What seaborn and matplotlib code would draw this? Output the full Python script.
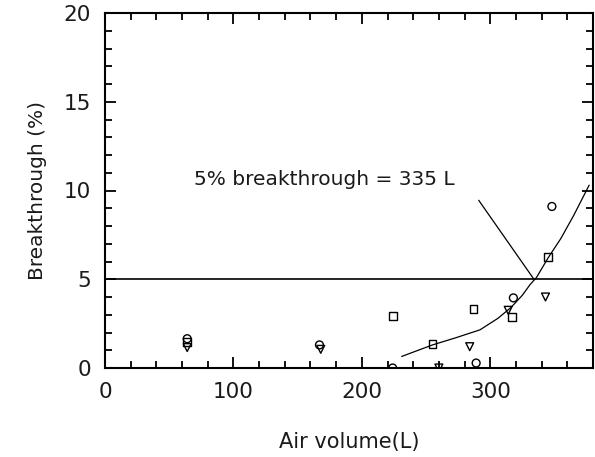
import matplotlib
matplotlib.use("Agg")
import matplotlib.pyplot as plt
import seaborn as sns
import pandas as pd
from matplotlib.ticker import MultipleLocator

# ---- data ----
circle_x = [64, 167, 224, 289, 318, 348]
circle_y = [1.65, 1.3, 0.0, 0.28, 3.95, 9.1]
square_x = [64, 224, 255, 287, 317, 345]
square_y = [1.45, 2.95, 1.35, 3.3, 2.85, 6.25]
tri_x = [64, 168, 260, 284, 314, 343]
tri_y = [1.15, 1.05, 0.0, 1.2, 3.25, 4.0]

curve_x = [231, 255, 273, 292, 306, 316, 325, 331, 336, 345, 355, 365, 377]
curve_y = [0.65, 1.3, 1.7, 2.15, 2.8, 3.4, 4.1, 4.7, 5.1, 6.2, 7.3, 8.6, 10.3]

threshold = 5
pointer_x = [291, 334]
pointer_y = [9.45, 5.0]
annot_text = "5% breakthrough = 335 L"
annot_xy = (69, 10.6)

x_label = "Air volume(L)"
y_label = "Breakthrough (%)"

pts = pd.DataFrame({
    "x": circle_x + square_x + tri_x,
    "y": circle_y + square_y + tri_y,
    "s": ["c"] * len(circle_x) + ["s"] * len(square_x) + ["t"] * len(tri_x),
})
curve = pd.DataFrame({"x": curve_x, "y": curve_y})

sns.set_style("white")
plt.rcParams["font.family"] = ["DejaVu Sans"]
txt = "#1a1a1a"
plt.rcParams["text.color"] = txt
plt.rcParams["axes.labelcolor"] = txt

fig = plt.figure(figsize=(5.95, 4.57), dpi=100)
ax = fig.add_axes([105 / 595, 1 - 368 / 457, (593 - 105) / 595, (368 - 13) / 457])

sns.scatterplot(data=pts, x="x", y="y", style="s",
                markers={"c": "o", "s": "s", "t": "v"},
                facecolor="none", edgecolor="black", linewidth=1.0,
                s=32, legend=False, ax=ax)
for coll in ax.collections:
    coll.set_facecolor("none")
    coll.set_edgecolor("black")

sns.lineplot(data=curve, x="x", y="y", color="black", linewidth=0.9, ax=ax)
ax.axhline(threshold, color="black", linewidth=1.2)
ax.plot(pointer_x, pointer_y, color="black", linewidth=0.9)
ax.text(annot_xy[0], annot_xy[1], annot_text, fontsize=14.5, va="center", ha="left",
        color=txt)

ax.set_xlim(0, 380)
ax.set_ylim(0, 20)
ax.xaxis.set_major_locator(MultipleLocator(100))
ax.xaxis.set_minor_locator(MultipleLocator(20))
ax.yaxis.set_major_locator(MultipleLocator(5))
ax.yaxis.set_minor_locator(MultipleLocator(1))
ax.tick_params(which="both", direction="in", top=True, right=True, bottom=True,
               left=True, width=1.3, color="black", labelcolor=txt)
ax.tick_params(which="major", length=8, labelsize=15.5, pad=10)
ax.tick_params(which="minor", length=5)
for sp in ax.spines.values():
    sp.set_visible(True)
    sp.set_linewidth(1.5)
    sp.set_color("black")

ax.set_xlabel(x_label, fontsize=15, labelpad=22)
ax.set_ylabel(y_label, fontsize=14.5, labelpad=12)

fig.savefig("out.png", dpi=100)
